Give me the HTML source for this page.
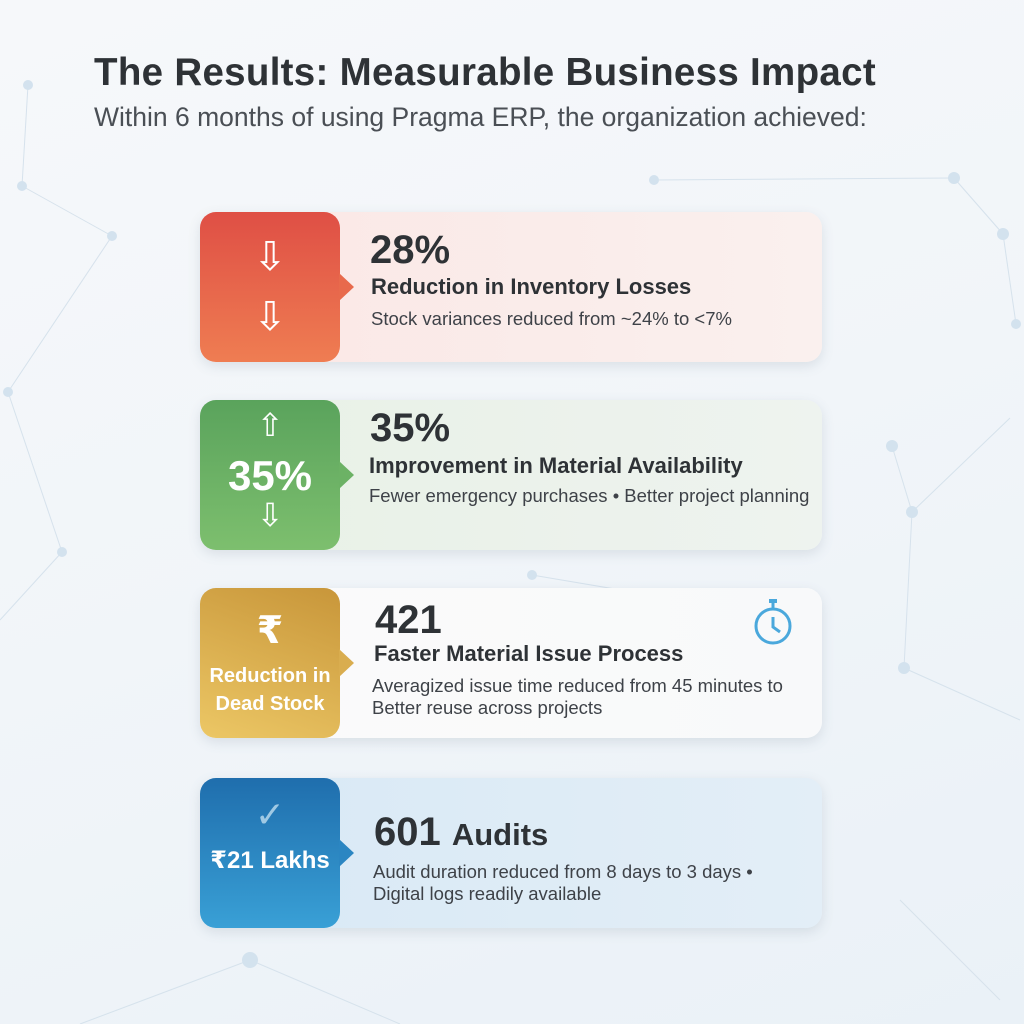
<!DOCTYPE html>
<html><head><meta charset="utf-8"><style>
*{margin:0;padding:0;box-sizing:border-box}
body{width:1024px;height:1024px;overflow:hidden;position:relative;font-family:"Liberation Sans","DejaVu Sans",sans-serif;background:linear-gradient(160deg,#f6f8fa 0%,#f1f5f9 50%,#eaf1f7 100%)}
.t{position:absolute;left:94px;top:51px;font-size:38.5px;font-weight:bold;color:#2e3236;letter-spacing:0.3px}
.s{position:absolute;left:94px;top:102px;font-size:26.5px;color:#4a4f55}
.card{position:absolute;left:200px;width:622px;height:150px;border-radius:16px;box-shadow:0 4px 12px rgba(80,100,120,.15)}
.l{position:absolute;left:0;top:0;width:140px;height:150px;border-radius:16px;color:#fff;text-align:center}
.l:after{content:"";position:absolute;right:-14px;top:61px;border-left:15px solid;border-left-color:inherit;border-top:14px solid transparent;border-bottom:14px solid transparent}
.big{position:absolute;font-size:40px;font-weight:bold;color:#2e3236}
.h{position:absolute;font-size:22px;font-weight:bold;color:#2e3236}
.d{position:absolute;font-size:18.5px;color:#3e4248;line-height:22px}
.ar{position:absolute;font-size:40px;color:#fff;left:0;width:140px;text-align:center}
</style></head><body>
<svg style="position:absolute;left:0;top:0" width="1024" height="1024">
<g stroke="#d6e2ec" stroke-width="1" fill="none">
<line x1="28" y1="85" x2="22" y2="186"/><line x1="22" y1="186" x2="112" y2="236"/><line x1="112" y1="236" x2="8" y2="392"/><line x1="8" y1="392" x2="62" y2="552"/><line x1="62" y1="552" x2="0" y2="620"/><line x1="654" y1="180" x2="954" y2="178"/><line x1="954" y1="178" x2="1003" y2="234"/><line x1="1003" y1="234" x2="1016" y2="324"/><line x1="892" y1="446" x2="912" y2="512"/><line x1="912" y1="512" x2="1010" y2="418"/><line x1="912" y1="512" x2="904" y2="668"/><line x1="904" y1="668" x2="1020" y2="720"/><line x1="532" y1="575" x2="680" y2="600"/><line x1="250" y1="960" x2="400" y2="1024"/><line x1="250" y1="960" x2="80" y2="1024"/><line x1="900" y1="900" x2="1000" y2="1000"/>
</g>
<g fill="#d3e2ee"><circle cx="28" cy="85" r="5"/><circle cx="22" cy="186" r="5"/><circle cx="112" cy="236" r="5"/><circle cx="8" cy="392" r="5"/><circle cx="62" cy="552" r="5"/><circle cx="654" cy="180" r="5"/><circle cx="954" cy="178" r="6"/><circle cx="1003" cy="234" r="6"/><circle cx="1016" cy="324" r="5"/><circle cx="892" cy="446" r="6"/><circle cx="912" cy="512" r="6"/><circle cx="904" cy="668" r="6"/><circle cx="532" cy="575" r="5"/><circle cx="250" cy="960" r="8"/></g>
</svg>
<div class="t">The Results: Measurable Business Impact</div>
<div class="s">Within 6 months of using Pragma ERP, the organization achieved:</div>

<div class="card" style="top:212px;background:linear-gradient(90deg,#fbe7e5,#faf0ee)">
<div class="l" style="background:linear-gradient(180deg,#df4f45,#ef7d52);border-color:#e86a4c">
<div class="ar" style="top:22px">⇩</div><div class="ar" style="top:82px">⇩</div></div>
<div class="big" style="left:170px;top:16px">28%</div>
<div class="h" style="left:171px;top:62px">Reduction in Inventory Losses</div>
<div class="d" style="left:171px;top:96px">Stock variances reduced from ~24% to &lt;7%</div>
</div>

<div class="card" style="top:400px;background:linear-gradient(90deg,#e8f1e6,#eef3ef)">
<div class="l" style="background:linear-gradient(180deg,#5aa35c,#7dbf6e);border-color:#6cb265">
<div class="ar" style="top:6px;font-size:32px">⇧</div>
<div style="position:absolute;top:52px;width:140px;font-size:42px;font-weight:bold">35%</div>
<div class="ar" style="top:96px;font-size:32px">⇩</div></div>
<div class="big" style="left:170px;top:6px">35%</div>
<div class="h" style="left:169px;top:53px">Improvement in Material Availability</div>
<div class="d" style="left:169px;top:85px">Fewer emergency purchases • Better project planning</div>
</div>

<div class="card" style="top:588px;background:linear-gradient(90deg,#fbfbfb,#f8f9fa)">
<div class="l" style="background:linear-gradient(20deg,#ecc765,#c8963a);border-color:#d9ad4f">
<div style="position:absolute;top:20px;width:140px;font-size:38px;font-weight:bold">₹</div>
<div style="position:absolute;top:74px;width:140px;font-size:20px;font-weight:bold;line-height:28px">Reduction in<br>Dead Stock</div></div>
<div class="big" style="left:175px;top:10px">421</div>
<div class="h" style="left:174px;top:53px">Faster Material Issue Process</div>
<div class="d" style="left:172px;top:87px">Averagized issue time reduced from 45 minutes to<br>Better reuse across projects</div>
<svg style="position:absolute;left:550px;top:10px" width="46" height="50"><rect x="19" y="1" width="8" height="4" fill="#4aa8dc"/><line x1="23" y1="5" x2="23" y2="10" stroke="#4aa8dc" stroke-width="3"/><circle cx="23" cy="28" r="17" stroke="#4aa8dc" stroke-width="3" fill="none"/><polyline points="23,19 23,29 30,34" stroke="#4aa8dc" stroke-width="3" fill="none"/></svg>
</div>

<div class="card" style="top:778px;background:linear-gradient(90deg,#d8e9f5,#e3eef7)">
<div class="l" style="background:linear-gradient(180deg,#1f6ead,#39a0d6);border-color:#2b86c2">
<div style="position:absolute;top:16px;width:140px;font-size:36px;color:#9fc9e4">✓</div>
<div style="position:absolute;top:68px;width:140px;font-size:24px;font-weight:bold">₹21 Lakhs</div></div>
<div class="big" style="left:174px;top:32px">601 <span style="font-size:31px">Audits</span></div>
<div class="d" style="left:173px;top:83px">Audit duration reduced from 8 days to 3 days •<br>Digital logs readily available</div>
</div>
</body></html>
